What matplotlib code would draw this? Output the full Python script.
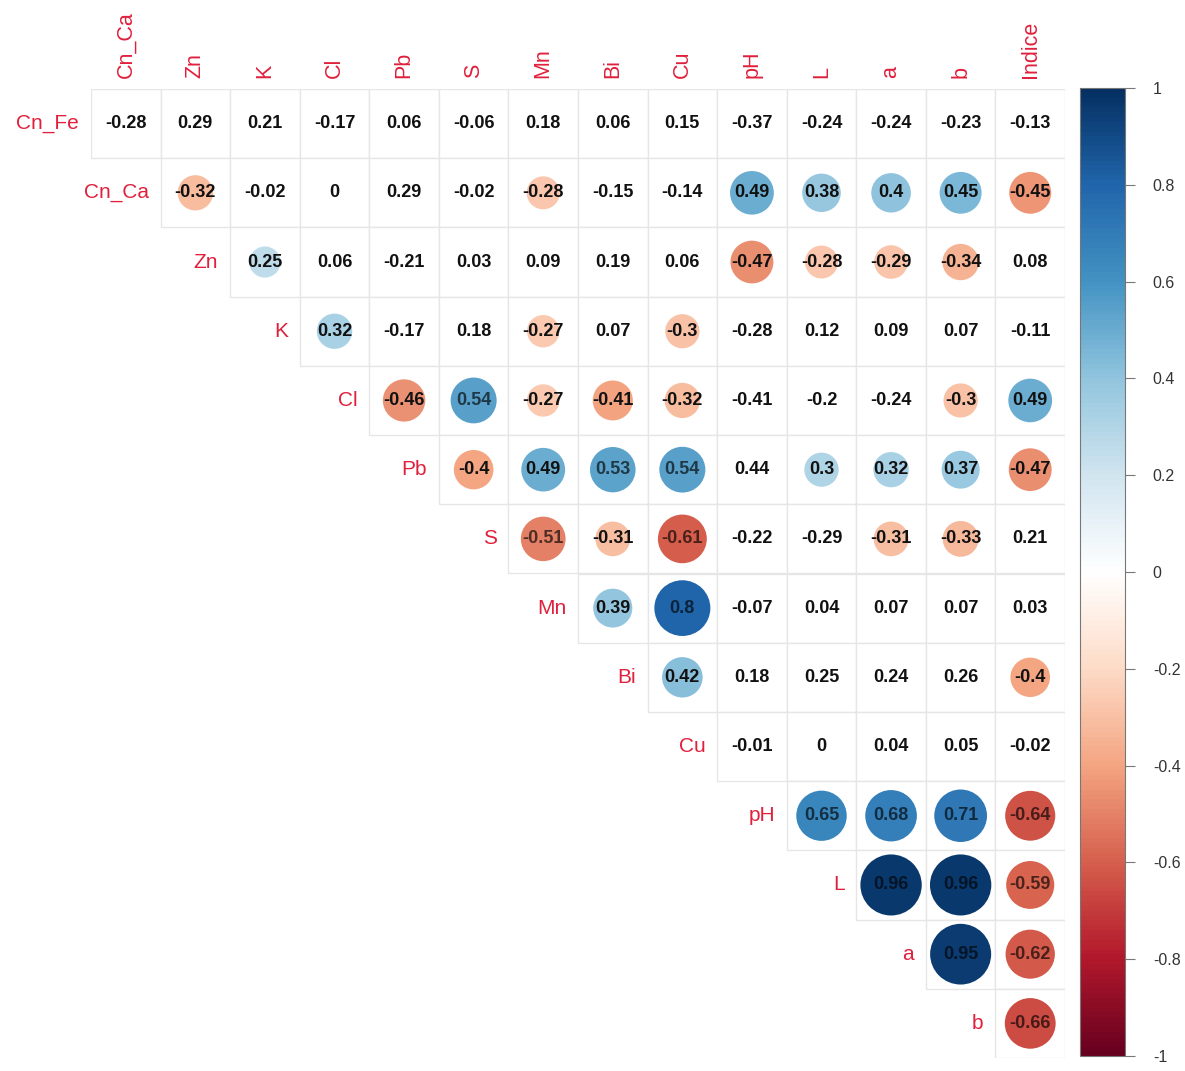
import numpy as np
import matplotlib
matplotlib.use("Agg")
import matplotlib.pyplot as plt
from matplotlib.patches import Circle, Rectangle
from matplotlib.colors import LinearSegmentedColormap, Normalize
from matplotlib.cm import ScalarMappable


ROW_LABELS = ["Cn_Fe", "Cn_Ca", "Zn", "K", "Cl", "Pb", "S", "Mn", "Bi", "Cu",
              "pH", "L", "a", "b"]
COL_LABELS = ["Cn_Ca", "Zn", "K", "Cl", "Pb", "S", "Mn", "Bi", "Cu", "pH",
              "L", "a", "b", "Indice"]

# upper triangle, row i starts at column i
CORR_ROWS = [
    [-0.28, 0.29, 0.21, -0.17, 0.06, -0.06, 0.18, 0.06, 0.15, -0.37, -0.24, -0.24, -0.23, -0.13],
    [-0.32, -0.02, 0, 0.29, -0.02, -0.28, -0.15, -0.14, 0.49, 0.38, 0.4, 0.45, -0.45],
    [0.25, 0.06, -0.21, 0.03, 0.09, 0.19, 0.06, -0.47, -0.28, -0.29, -0.34, 0.08],
    [0.32, -0.17, 0.18, -0.27, 0.07, -0.3, -0.28, 0.12, 0.09, 0.07, -0.11],
    [-0.46, 0.54, -0.27, -0.41, -0.32, -0.41, -0.2, -0.24, -0.3, 0.49],
    [-0.4, 0.49, 0.53, 0.54, 0.44, 0.3, 0.32, 0.37, -0.47],
    [-0.51, -0.31, -0.61, -0.22, -0.29, -0.31, -0.33, 0.21],
    [0.39, 0.8, -0.07, 0.04, 0.07, 0.07, 0.03],
    [0.42, 0.18, 0.25, 0.24, 0.26, -0.4],
    [-0.01, 0, 0.04, 0.05, -0.02],
    [0.65, 0.68, 0.71, -0.64],
    [0.96, 0.96, -0.59],
    [0.95, -0.62],
    [-0.66],
]

# 1 = significant (circle drawn), 0 = left blank
SIGNIF_ROWS = [
    [0, 0, 0, 0, 0, 0, 0, 0, 0, 0, 0, 0, 0, 0],
    [1, 0, 0, 0, 0, 1, 0, 0, 1, 1, 1, 1, 1],
    [1, 0, 0, 0, 0, 0, 0, 1, 1, 1, 1, 0],
    [1, 0, 0, 1, 0, 1, 0, 0, 0, 0, 0],
    [1, 1, 1, 1, 1, 0, 0, 0, 1, 1],
    [1, 1, 1, 1, 0, 1, 1, 1, 1],
    [1, 1, 1, 0, 0, 1, 1, 0],
    [1, 1, 0, 0, 0, 0, 0],
    [1, 0, 0, 0, 0, 1],
    [0, 0, 0, 0, 0],
    [1, 1, 1, 1],
    [1, 1, 1],
    [1, 1],
    [1],
]

CBAR_TICKS = [-1, -0.8, -0.6, -0.4, -0.2, 0, 0.2, 0.4, 0.6, 0.8, 1]

RDBU = ["#67001F", "#B2182B", "#D6604D", "#F4A582", "#FDDBC7", "#FFFFFF",
        "#D1E5F0", "#92C5DE", "#4393C3", "#2166AC", "#053061"]
LABEL_RED = "#E0203C"
FONT = "Liberation Sans"


def fmt(v):
    s = "{:.2f}".format(v).rstrip("0").rstrip(".")
    return "0" if s in ("-0", "") else s


def draw_cells(ax, cmap, norm):
    n = len(ROW_LABELS)
    for i in range(n):
        for k, (v, sig) in enumerate(zip(CORR_ROWS[i], SIGNIF_ROWS[i])):
            j = i + k
            ax.add_patch(Rectangle((j, i), 1, 1, facecolor="white",
                                   edgecolor="#E6E6E6", lw=1.0, zorder=1))
            txt_color = "#111111"
            if sig:
                c = cmap(norm(v))
                ax.add_patch(Circle((j + 0.5, i + 0.5), 0.45 * np.sqrt(abs(v)),
                                    facecolor=c, edgecolor="none", zorder=2))
                if abs(v) >= 0.5:
                    txt_color = tuple(np.array(c[:3]) * 0.35)
            ax.text(j + 0.5, i + 0.5, fmt(v), ha="center", va="center",
                    fontsize=13, fontweight="bold", family=FONT,
                    color=txt_color, zorder=3)


def draw_labels(ax):
    for i, name in enumerate(ROW_LABELS):
        ax.text(i - 0.17, i + 0.5, name, ha="right", va="center",
                fontsize=15, family=FONT, color=LABEL_RED)
    for j, name in enumerate(COL_LABELS):
        ax.text(j + 0.5, -0.16, name, ha="center", va="bottom", rotation=90,
                fontsize=15.5, family=FONT, color=LABEL_RED)


def draw_colorbar(fig, cmap, norm):
    cax = fig.add_axes([1080 / 1185, 15 / 1071, 45 / 1185, 968 / 1071])
    sm = ScalarMappable(norm=norm, cmap=cmap)
    cb = fig.colorbar(sm, cax=cax, ticks=CBAR_TICKS)
    cb.outline.set_edgecolor("#777777")
    cb.outline.set_linewidth(0.8)
    cb.ax.set_yticklabels([fmt(t) for t in CBAR_TICKS])
    cb.ax.tick_params(length=7, width=0.8, color="#777777", pad=13,
                      labelsize=11.5, labelcolor="#333333")
    for lab in cb.ax.get_yticklabels():
        lab.set_family(FONT)


def main():
    cmap = LinearSegmentedColormap.from_list("rdbu", RDBU, N=200)
    norm = Normalize(vmin=-1, vmax=1)

    fig = plt.figure(figsize=(11.85, 10.71), dpi=100)
    ax = fig.add_axes([91 / 1185, 13 / 1071, 974 / 1185, 969 / 1071])
    ax.set_xlim(0, 14)
    ax.set_ylim(14, 0)
    ax.axis("off")

    draw_cells(ax, cmap, norm)
    draw_labels(ax)
    draw_colorbar(fig, cmap, norm)

    fig.savefig("out.png", dpi=100, facecolor="white")


if __name__ == '__main__':
    main()
